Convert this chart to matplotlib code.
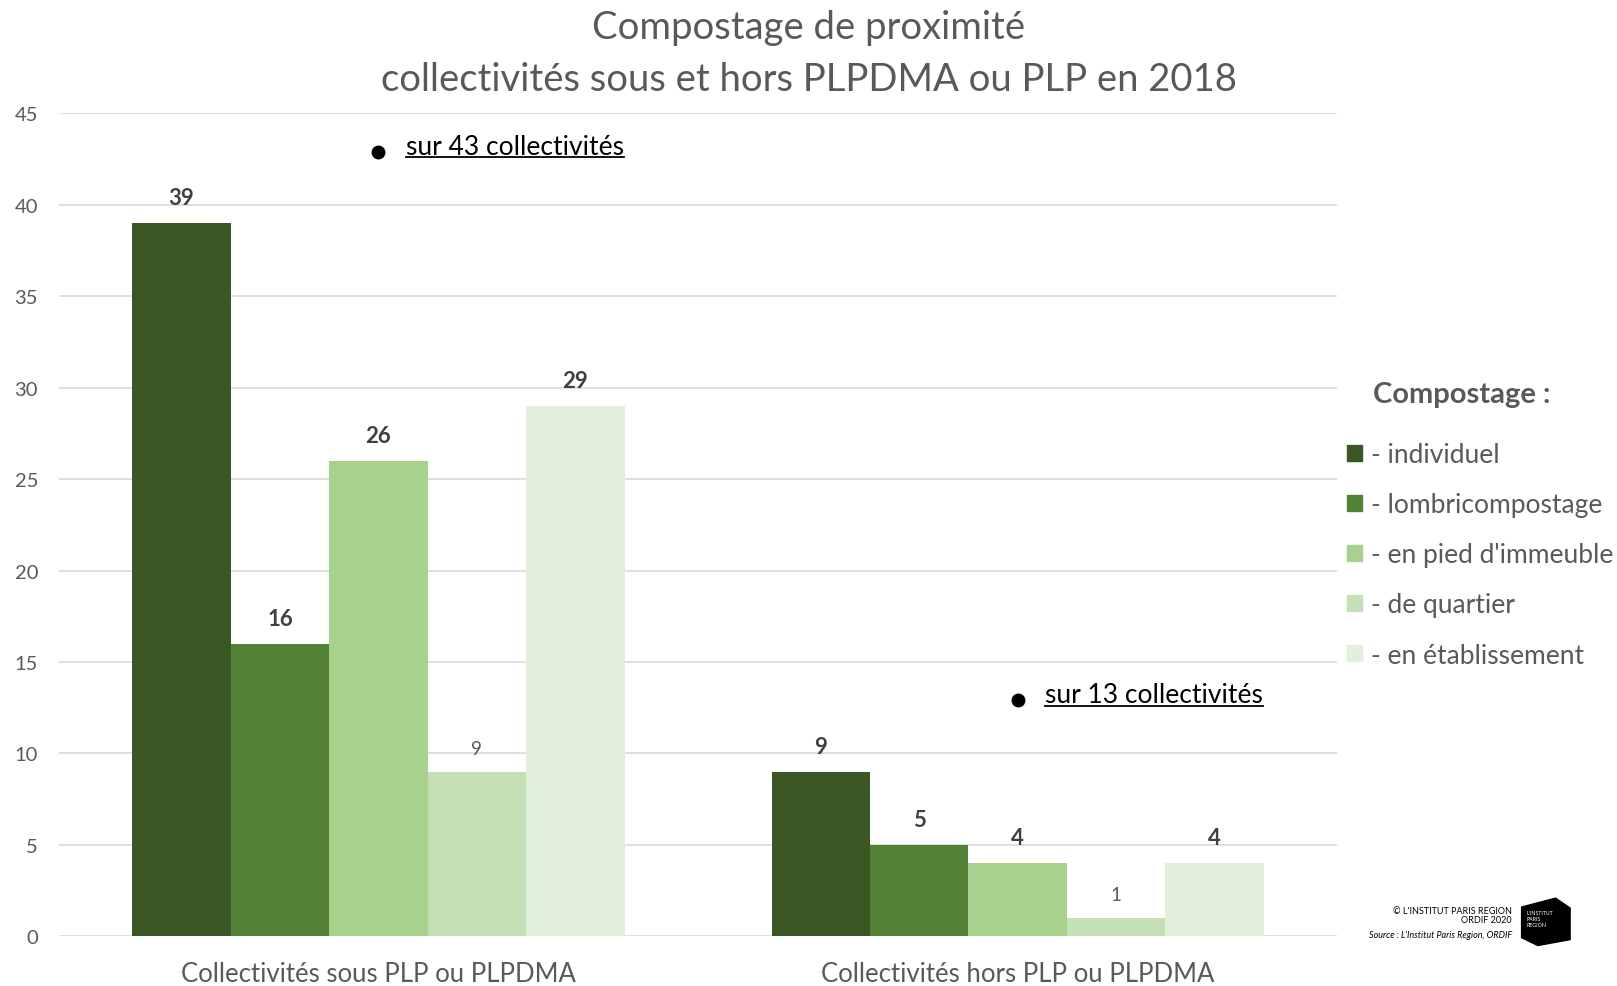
import matplotlib.pyplot as plt
import numpy as np
from matplotlib.patches import Patch, Polygon

plt.rcParams['font.family'] = ['Lato', 'DejaVu Sans']

# donnees
categories = ['Collectivités sous PLP ou PLPDMA', 'Collectivités hors PLP ou PLPDMA']
series = ['- individuel', '- lombricompostage', "- en pied d'immeuble", '- de quartier', '- en établissement']
valeurs = [
    [39, 9],
    [16, 5],
    [26, 4],
    [9, 1],
    [29, 4],
]
gras = [True, True, True, False, True]
couleurs = ['#3A5724', '#538135', '#A9D18E', '#C5E0B4', '#E2EFDA']
notes = ['sur 43 collectivités', 'sur 13 collectivités']
gris = '#595959'

fig = plt.figure(figsize=(16.17, 9.87), dpi=100)
ax = fig.add_axes([0.0364, 0.0503, 0.7906, 0.8337])

x = np.arange(len(categories))
largeur = 0.154
for i, (nom, vals) in enumerate(zip(series, valeurs)):
    pos = x + (i - 2) * largeur
    ax.bar(pos, vals, largeur, color=couleurs[i], label=nom, zorder=3)
    for p, v in zip(pos, vals):
        if gras[i]:
            ax.annotate(str(v), (p, v), xytext=(0, 11), textcoords='offset points',
                        ha='center', va='bottom', fontsize=16, fontweight='bold', color='#404040')
        else:
            ax.annotate(str(v), (p, v), xytext=(0, 11), textcoords='offset points',
                        ha='center', va='bottom', fontsize=13.5, color=gris)

ax.set_xlim(-0.5, 1.5)
ax.set_ylim(0, 45)
ax.set_yticks(range(0, 50, 5))
ax.set_xticks(x)
ax.set_xticklabels(categories, fontsize=18.5, color=gris)
ax.tick_params(axis='y', length=0, pad=15, labelsize=14.5, labelcolor=gris)
ax.tick_params(axis='x', length=0, pad=18)
ax.grid(axis='y', color='#D9D9D9', linewidth=1.2, zorder=0)
for s in ax.spines.values():
    s.set_visible(False)

fig.suptitle('Compostage de proximité\ncollectivités sous et hors PLPDMA ou PLP en 2018',
             y=0.99, fontsize=27.5, color=gris, linespacing=1.55)

# notes "sur N collectivités"
note_pos = [(0.1, 43.2), (1.1, 13.2)]
textes = []
for (nx, ny), n in zip(note_pos, notes):
    ax.plot(nx - 0.1, ny - 0.3, 'o', color='black', markersize=9, zorder=4)
    t = ax.text(nx - 0.057, ny, n, fontsize=19, color='black', va='center', ha='left')
    textes.append(t)

fig.canvas.draw()
r = fig.canvas.get_renderer()
for t in textes:
    bb = t.get_window_extent(renderer=r).transformed(fig.transFigure.inverted())
    fig.add_artist(plt.Line2D([bb.x0, bb.x1], [bb.y0 + 0.002, bb.y0 + 0.002],
                              color='black', linewidth=1.3, transform=fig.transFigure))

# legende
poignees = [Patch(color=c) for c in couleurs]
leg = fig.legend(poignees, series, loc='upper left', bbox_to_anchor=(0.8185, 0.575),
                 frameon=False, fontsize=19, labelcolor=gris, handlelength=0.55, handleheight=0.55,
                 handletextpad=0.35, labelspacing=0.95)
fig.text(0.849, 0.6, 'Compostage :', fontsize=21, fontweight='bold', color=gris,
         ha='left', va='center')

# logo / source
fig.text(0.935, 0.072, "© L'INSTITUT PARIS REGION\nORDIF 2020", fontsize=6.5, ha='right',
         va='center', color='black', linespacing=1.0)
fig.text(0.935, 0.052, "Source : L'Institut Paris Region, ORDIF", fontsize=6.5, ha='right',
         va='center', style='italic', color='black')
logo = Polygon([[0.941, 0.080], [0.962, 0.089], [0.971, 0.079], [0.971, 0.047], [0.951, 0.041],
                [0.941, 0.049]], closed=True, color='black', transform=fig.transFigure)
fig.add_artist(logo)
fig.text(0.944, 0.077, "L'INSTITUT\nPARIS\nREGION", fontsize=3.8, color='white', va='top',
         ha='left', linespacing=1.2)

fig.savefig('out.png', dpi=100)
